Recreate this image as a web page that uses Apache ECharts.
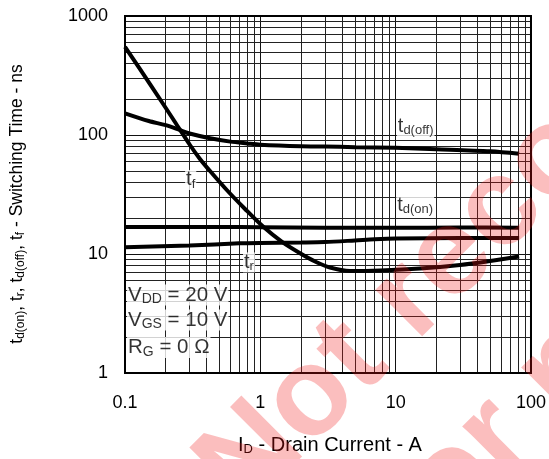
<!DOCTYPE html>
<html><head><meta charset="utf-8">
<script src="https://cdn.jsdelivr.net/npm/echarts@6/dist/echarts.min.js"></script>
<style>html,body{margin:0;padding:0;background:#fff}#c{width:549px;height:459px}</style>
</head><body><div id="c"></div>
<script>
// ---- data ----
const xTickValues = [0.1, 1, 10, 100];
const xTickLabels = ['0.1', '1', '10', '100'];
const yTickValues = [1, 10, 100, 1000];
const yTickLabels = ['1', '10', '100', '1000'];
const xMinorGrid = [0.2,0.3,0.4,0.5,0.6,0.7,0.8,0.9,2,3,4,5,6,7,8,9,20,30,40,50,60,70,80,90];
const yMinorGrid = [2,3,4,5,6,7,8,9,20,30,40,50,60,70,80,90,200,300,400,500,600,700,800,900];

const tf = [[0.1,549],[0.153,268],[0.234,128.6],[0.302,82.4],[0.358,62.9],[0.425,49.8],[0.565,34.5],[0.771,23.9],[1.047,17],[1.439,12.7],[1.966,10.14],[2.537,8.65],[3.274,7.7],[4.6,7.2],[7.67,7.27],[15.15,7.55],[29.9,8.08],[49.85,8.73],[81.7,9.53]];
const tdoff = [[0.1,152],[0.15,131],[0.2,121],[0.255,110],[0.3,103],[0.425,94],[0.6,88],[0.8,85],[1,83],[2,80.5],[3,80],[5,79],[10,78],[20,76],[50,73],[81.7,69.5]];
const tdon = [[0.1,16.9],[0.5,16.9],[1,16.8],[3,16.6],[10,16.6],[30,16.7],[81.7,16.6]];
const tr = [[0.1,11.4],[0.3,11.8],[0.7,12.3],[1,12.4],[2,12.5],[3,12.6],[5,13],[7,13.3],[10,13.5],[30,13.6],[81.7,13.6]];

// annotation texts (rich) and their anchor points in data space
const annotTexts = ['{m|t}{s|d(off)}', '{m|t}{s|d(on)}', '{m|t}{s|f}', '{m|t}{s|r}',
  '{p|V}{q|DD}{p| = 20 V}', '{p|V}{q|GS}{p| = 10 V}', '{p|R}{q|G}{p| = 0 Ω}'];
const annotAnchors = [[10.2,119],[10.1,25.6],[0.278,41.9],[0.745,8.5],[0.1035,4.52],[0.1035,2.79],[0.1035,1.64]];

const FONT = '"Liberation Sans", Arial, sans-serif';
const chart = echarts.init(document.getElementById('c'));

function fmt(values, labels) {
  return v => {
    const i = values.findIndex(t => Math.abs(Math.log10(t) - Math.log10(v)) < 1e-6);
    return i >= 0 ? labels[i] : '';
  };
}
const richAnn = {
  m: {fontSize: 20, color: '#000', fontFamily: FONT, verticalAlign: 'bottom', lineHeight: 20},
  s: {fontSize: 13, color: '#000', fontFamily: FONT, verticalAlign: 'bottom', lineHeight: 13, padding: [0,0,-1,0]},
  p: {fontSize: 20.5, color: '#000', fontFamily: FONT, verticalAlign: 'bottom', lineHeight: 21},
  q: {fontSize: 14, color: '#000', fontFamily: FONT, verticalAlign: 'bottom', lineHeight: 14, padding: [0,0,-1,0]}
};

const curveStyle = {color: '#000', width: 4};
function curve(name, data) {
  return {name, type: 'line', data, smooth: 0.3, showSymbol: false, symbol: 'none',
    lineStyle: curveStyle, z: 5, silent: true};
}
const WM_FONT = 'bold 125px "Liberation Sans", Arial, sans-serif';
const WM_FILL = 'rgba(240,20,20,0.28)';

const option = {
  animation: false,
  backgroundColor: '#fff',
  grid: {left: 125, right: 18, top: 16, bottom: 86, show: true, borderColor: '#000', borderWidth: 2, z: 10},
  xAxis: {type: 'log', logBase: 10, min: 0.1, max: 100,
    axisLine: {show: true, lineStyle: {color: '#000', width: 2}},
    axisTick: {show: false},
    axisLabel: {fontSize: 18, color: '#000', fontFamily: FONT, margin: 21, formatter: fmt(xTickValues, xTickLabels), showMaxLabel: true, showMinLabel: true},
    splitLine: {show: true, lineStyle: {color: '#111', width: 1}},
    minorTick: {show: false}},
  yAxis: {type: 'log', logBase: 10, min: 1, max: 1000,
    axisLine: {show: true, lineStyle: {color: '#000', width: 2}},
    axisTick: {show: false},
    axisLabel: {fontSize: 18, color: '#000', fontFamily: FONT, margin: 17, formatter: fmt(yTickValues, yTickLabels), showMaxLabel: true, showMinLabel: true},
    splitLine: {show: true, lineStyle: {color: '#111', width: 1}}},
  series: [
    {type: 'line', data: [], silent: true, z: 1,
      markLine: {silent: true, symbol: 'none', animation: false, label: {show: false},
        lineStyle: {color: '#222', width: 1, type: 'solid'},
        emphasis: {disabled: true},
        data: xMinorGrid.map(v => ({xAxis: v})).concat(yMinorGrid.map(v => ({yAxis: v})))}},
    curve('td(off)', tdoff),
    curve('td(on)', tdon),
    curve('tr', tr),
    curve('tf', tf),
    {type: 'scatter', symbolSize: 0, silent: true, z: 8,
      data: annotAnchors.map((p, i) => ({value: p, label: {formatter: annotTexts[i]}})),
      label: {show: true, position: 'right', distance: 0, backgroundColor: '#fff', padding: [0, 1, 0, 1], rich: richAnn}}
  ],
  graphic: [
    {type: 'text', x: 330, y: 445, z: 20,
      style: {text: '{a|I}{b|D}{a| - Drain Current - A}', align: 'center', verticalAlign: 'middle',
        rich: {a: {fontSize: 20, fontFamily: FONT, fill: '#000', verticalAlign: 'bottom', lineHeight: 20},
               b: {fontSize: 13, fontFamily: FONT, fill: '#000', verticalAlign: 'bottom', lineHeight: 13, padding: [0,0,-1,0]}}}},
    {type: 'text', x: 17, y: 204, rotation: Math.PI / 2, z: 20,
      style: {text: '{a|t}{b|d(on)}{a|, t}{b|r}{a|, t}{b|d(off)}{a|, t}{b|f}{a| - Switching Time - ns}', align: 'center', verticalAlign: 'middle',
        rich: {a: {fontSize: 17.5, fontFamily: FONT, fill: '#000', verticalAlign: 'bottom', lineHeight: 18},
               b: {fontSize: 12, fontFamily: FONT, fill: '#000', verticalAlign: 'bottom', lineHeight: 12, padding: [0,0,-1,0]}}}},
    {type: 'group', x: 251, y: 521, rotation: Math.PI / 4, z: 100, silent: true,
      children: [
        {type: 'text', x: 0, y: -44, z: 100, style: {text: 'Not recommended', font: WM_FONT, fill: WM_FILL, verticalAlign: 'middle', align: 'left'}},
        {type: 'text', x: 90, y: 114, z: 100, style: {text: 'for new design', font: WM_FONT, fill: WM_FILL, verticalAlign: 'middle', align: 'left'}}
      ]}
  ]
};
chart.setOption(option);
</script></body></html>
